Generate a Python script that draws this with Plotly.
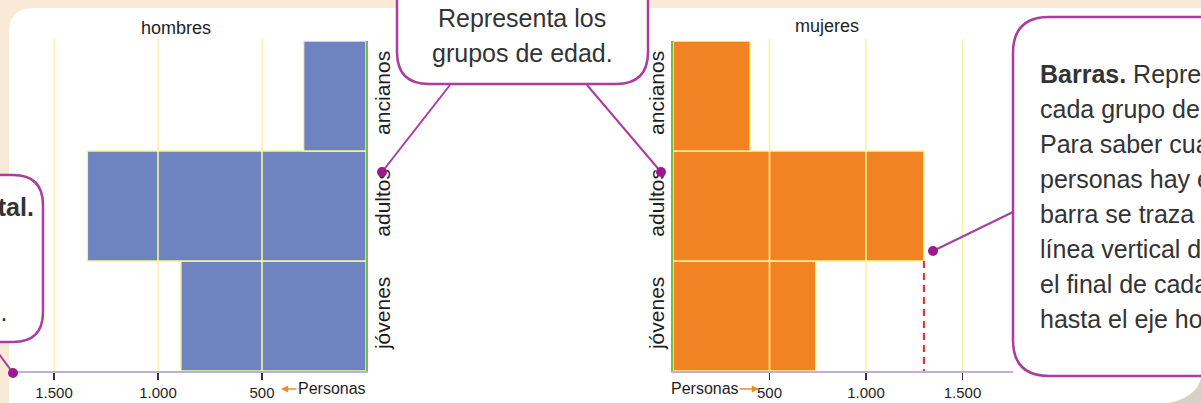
import plotly.graph_objects as go

W, H = 1201, 403

# ---------------- data ----------------
categorias = ["jóvenes", "adultos", "ancianos"]
hombres = [890, 1340, 300]
mujeres = [740, 1300, 400]
ticks_valores = [500, 1000, 1500]
ticks_texto = ["500", "1.000", "1.500"]

titulo_h = "hombres"
titulo_m = "mujeres"
eje_texto = "Personas"

texto_arriba = ["Representa los", "grupos de edad."]
texto_derecha = ["<b>Barras.</b> Representan", "cada grupo de edad.", "Para saber cuántas",
                 "personas hay en cada", "barra se traza una", "línea vertical desde",
                 "el final de cada barra", "hasta el eje horizontal."]
texto_izquierda = ["<b>Eje horizontal.</b>", "Representa", "la cantidad", "de personas."]

# ---------------- style ----------------
AZUL = "#6e84c1"
NARANJA = "#f28322"
AMARILLO = "#fbf39c"
VERDE = "#72bf44"
LAVANDA = "#bcb0d8"
MORADO = "#ad3ba0"
MORADO_OSC = "#9c1a8e"
CREMA = "#f8ead6"
SANS = "Liberation Sans, Arial, sans-serif"


def px(x):
    return x / W


def py(y):
    return 1 - y / H


def path(cmds):
    out = []
    for c in cmds:
        op = c[0]
        vals = c[1:]
        pts = []
        for i in range(0, len(vals), 2):
            pts.append(f"{px(vals[i]):.5f},{py(vals[i+1]):.5f}")
        out.append(op + " " + " ".join(pts))
    return " ".join(out)


fig = go.Figure()

fig.add_trace(go.Bar(
    y=categorias, x=hombres, orientation="h", xaxis="x", yaxis="y",
    marker=dict(color=AZUL, line=dict(color=AMARILLO, width=1.5)),
    hoverinfo="skip", showlegend=False))
fig.add_trace(go.Bar(
    y=categorias, x=mujeres, orientation="h", xaxis="x2", yaxis="y2",
    marker=dict(color=NARANJA, line=dict(color=AMARILLO, width=1.5)),
    hoverinfo="skip", showlegend=False))

shapes = []
# white page panel
shapes.append(dict(type="path", xref="paper", yref="paper", layer="below",
                   path=path([("M", 9, 420), ("L", 9, 33), ("Q", 9, 8, 34, 8),
                              ("L", 1230, 8), ("L", 1230, 420), ("Z",)]),
                   fillcolor="white", line=dict(width=0)))
# page curl bottom-right
shapes.append(dict(type="path", xref="paper", yref="paper", layer="below",
                   path=path([("M", 1201, 378), ("Q", 1196, 398, 1168, 403),
                              ("L", 1201, 403), ("Z",)]),
                   fillcolor="#d8d0c4", line=dict(width=0)))

# grid lines above the bars
for v in ticks_valores:
    for xr, yr in (("x", "y domain"), ("x2", "y2 domain")):
        shapes.append(dict(type="line", xref=xr, yref=yr, x0=v, x1=v, y0=0, y1=1.006,
                           line=dict(color=AMARILLO, width=1.6), layer="above"))

# red dashed guide line from end of "adultos" (mujeres) to the axis
idx_ad = categorias.index("adultos")
shapes.append(dict(type="line", xref="x2", yref="y2",
                   x0=mujeres[idx_ad], x1=mujeres[idx_ad],
                   y0=idx_ad - 0.5, y1=-0.5,
                   line=dict(color="#e52a2a", width=2, dash="7px,5px"), layer="above"))

# callout boxes
box_line = dict(color=MORADO, width=2.5)
shapes.append(dict(type="path", xref="paper", yref="paper", layer="above",
                   path=path([("M", 397, -40), ("L", 397, 52), ("Q", 397, 84, 429, 84),
                              ("L", 616, 84), ("Q", 648, 84, 648, 52), ("L", 648, -40)]),
                   fillcolor="white", line=box_line))
shapes.append(dict(type="path", xref="paper", yref="paper", layer="above",
                   path=path([("M", 1260, 17), ("L", 1049, 17), ("Q", 1013, 17, 1013, 53),
                              ("L", 1013, 340), ("Q", 1013, 376, 1049, 376), ("L", 1260, 376)]),
                   fillcolor="white", line=box_line))
shapes.append(dict(type="path", xref="paper", yref="paper", layer="above",
                   path=path([("M", -60, 175), ("L", 13, 175), ("Q", 43, 175, 43, 205),
                              ("L", 43, 312), ("Q", 43, 342, 13, 342), ("L", -60, 342)]),
                   fillcolor="white", line=box_line))

# connectors and dots
conns = [((450, 85), (382, 172)), ((587, 85), (661, 172)),
         ((1013, 212), (933, 251)), ((-4, 350), (13, 373))]
for (x0, y0), (x1, y1) in conns:
    shapes.append(dict(type="line", xref="paper", yref="paper", layer="above",
                       x0=px(x0), y0=py(y0), x1=px(x1), y1=py(y1),
                       line=dict(color=MORADO, width=2)))
    r = 5
    shapes.append(dict(type="circle", xref="paper", yref="paper", layer="above",
                       x0=px(x1 - r), x1=px(x1 + r), y0=py(y1 + r), y1=py(y1 - r),
                       fillcolor=MORADO_OSC, line=dict(width=0)))

annotations = []


def label(text, x, y, font, xanchor="center", yanchor="middle", **kw):
    d = dict(text=text, x=px(x), y=py(y), xref="paper", yref="paper", showarrow=False,
             xanchor=xanchor, yanchor=yanchor, font=font)
    d.update(kw)
    annotations.append(d)


# panel titles
TIT_FONT = dict(family=SANS, size=18, color="#1e1e1e", weight=500)
label(titulo_h, 176, 28, TIT_FONT)
label(titulo_m, 827, 26, TIT_FONT)

# "Personas" labels with orange arrows
EJE_FONT = dict(family=SANS, size=16, color="#1e1e1e")
label(eje_texto, 332, 388, EJE_FONT)
label(eje_texto, 705, 388, EJE_FONT)
annotations.append(dict(text="", x=px(281), y=py(389), xref="paper", yref="paper",
                        showarrow=True, ax=17, ay=0, arrowhead=2, arrowsize=0.9,
                        arrowwidth=1.6, arrowcolor="#f08a24"))
annotations.append(dict(text="", x=px(759), y=py(389), xref="paper", yref="paper",
                        showarrow=True, ax=-21, ay=0, arrowhead=2, arrowsize=0.9,
                        arrowwidth=1.6, arrowcolor="#f08a24"))

CALL_FONT = dict(family=SANS, size=25, color="#333333")
for i, t in enumerate(texto_arriba):
    label(t, 522, 27 + 35 * i - 9, CALL_FONT)
for i, t in enumerate(texto_derecha):
    label(t, 1038, 83 + 35 * i - 9, CALL_FONT, xanchor="left")
for i, t in enumerate(texto_izquierda):
    label(t, -139, 216 + 35 * i - 9, CALL_FONT, xanchor="left")

y_dom = [py(371), py(41)]
x_left = [14, 366]
x_right = [673, 1013]
s_left = 0.208
s_right = 0.193

axis_common = dict(tickvals=ticks_valores, ticktext=ticks_texto, ticks="outside", ticklen=7,
                   tickwidth=1.3, tickcolor="#333333", showgrid=False, zeroline=False,
                   showline=True, linecolor=LAVANDA, linewidth=2, fixedrange=True,
                   tickfont=dict(family=SANS, size=15, color="#1e1e1e"))
yaxis_common = dict(type="category", categoryorder="array", categoryarray=categorias,
                    range=[-0.5, len(categorias) - 0.5], showgrid=False, zeroline=False,
                    showline=True, linecolor=VERDE, linewidth=2, ticks="", tickangle=-90,
                    fixedrange=True, domain=y_dom,
                    tickfont=dict(family=SANS, size=21, color="#1e1e1e"))

fig.update_layout(
    width=W, height=H, margin=dict(l=0, r=0, t=0, b=0),
    paper_bgcolor=CREMA, plot_bgcolor="rgba(0,0,0,0)",
    bargap=0, showlegend=False,
    xaxis=dict(domain=[px(x_left[0]), px(x_left[1])],
               range=[(x_left[1] - x_left[0]) / s_left, 0], anchor="y", **axis_common),
    yaxis=dict(anchor="x", side="right", ticklabelstandoff=-3, **yaxis_common),
    xaxis2=dict(domain=[px(x_right[0]), px(x_right[1])],
                range=[0, (x_right[1] - x_right[0]) / s_right], anchor="y2", **axis_common),
    yaxis2=dict(anchor="x2", side="left", ticklabelstandoff=-1, **yaxis_common),
    shapes=shapes, annotations=annotations,
)

fig.write_html(
    "out.html",
    config={"displayModeBar": False, "staticPlot": True},
    post_script="document.body.style.margin='0';document.body.style.padding='0';"
                "document.body.style.overflow='hidden';",
)
